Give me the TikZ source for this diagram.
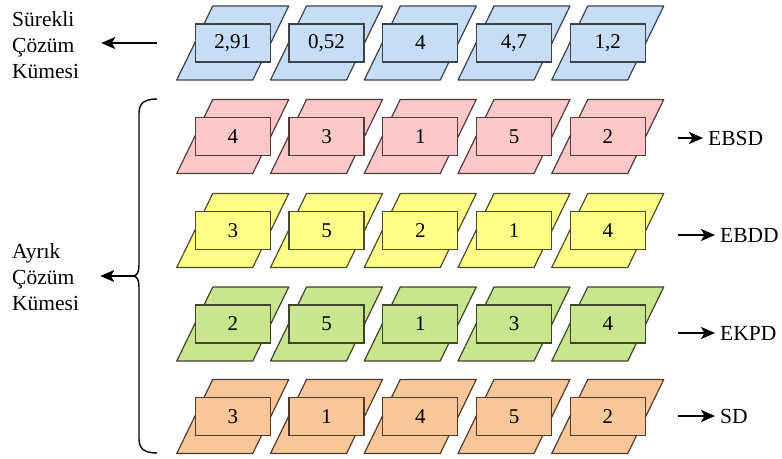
\documentclass[tikz,border=0pt]{standalone}
\usepackage{fontspec}
\setmainfont{Liberation Serif}
\usetikzlibrary{arrows.meta,positioning}
\definecolor{cblue}{HTML}{C6DDF5}
\definecolor{cpink}{HTML}{FFC8C8}
\definecolor{cyellow}{HTML}{FFFF88}
\definecolor{cgreen}{HTML}{C8E68E}
\definecolor{corange}{HTML}{FBC798}
\tikzset{
  cell/.style={draw=#1!30!black, fill=#1, line width=1.2pt, minimum width=75pt, minimum height=38pt, inner sep=0pt, font=\fontsize{21}{26}\selectfont},
  para/.style={draw=#1!30!black, fill=#1, line width=1.2pt, line join=round},
  flow/.style={-{Stealth[length=14pt, width=12pt, inset=3.5pt]}, line width=1.5pt},
  brace/.style={line width=1.4pt},
  lbl/.style={font=\fontsize{21.5}{26}\selectfont, align=left, inner sep=0pt, anchor=west},
}

\begin{document}
\begin{tikzpicture}[x=1pt, y=-1pt]
\useasboundingbox (0,0) rectangle (782,458);
% continuous solution
\foreach \v [count=\i] in {{2,91},{0,52},4,{4,7},{1,2}} {
  \draw[para=cblue, shift={({139+93.75*\i},43)}] (-56,37) -- (20,37) -- (56,-37) -- (-20,-37) -- cycle;
  \node[cell=cblue] (s\i) at ({139+93.75*\i},43) {\v};
}
% discrete solutions
\foreach \r/\y/\clr/\vals in {2/136.5/cpink/{4,3,1,5,2}, 3/230.5/cyellow/{3,5,2,1,4}, 4/324/cgreen/{2,5,1,3,4}, 5/416.5/corange/{3,1,4,5,2}} {
  \foreach \v [count=\i] in \vals {
    \draw[para=\clr, shift={({139+93.75*\i},\y)}] (-56,37) -- (20,37) -- (56,-37) -- (-20,-37) -- cycle;
    \node[cell=\clr] (d\r-\i) at ({139+93.75*\i},\y) {\v};
  }
}
\node[lbl] (sur) at (12,45) {Sürekli\\Çözüm\\Kümesi};
\node[lbl] (ayr) at (12,277) {Ayrık\\Çözüm\\Kümesi};
\draw[flow, shorten <=38pt, shorten >=22pt] (s1.west) -- (sur.east |- s1.west);
% brace
\coordinate (tip) at (133,276);
\draw[brace] (157,99) .. controls (145,99) and (139,103) .. (139,113) -- (139,265)
  .. controls (139,272) and (137,276) .. (tip) .. controls (137,276) and (139,280) .. (139,287)
  -- (139,439) .. controls (139,449) and (145,453) .. (157,453);
\draw[flow, shorten >=21pt] (tip) -- (ayr.east |- tip);
% methods
\foreach \r/\y/\x/\t in {2/138/708/EBSD, 3/235/720/EBDD, 4/333/720/EKPD, 5/416/720/SD} {
  \node[lbl] (m\r) at (\x,\y) {\t};
  \draw[flow, shorten <=32pt, shorten >=5pt] (m\r.west -| d\r-5.east) -- (m\r.west);
}
\end{tikzpicture}
\end{document}
